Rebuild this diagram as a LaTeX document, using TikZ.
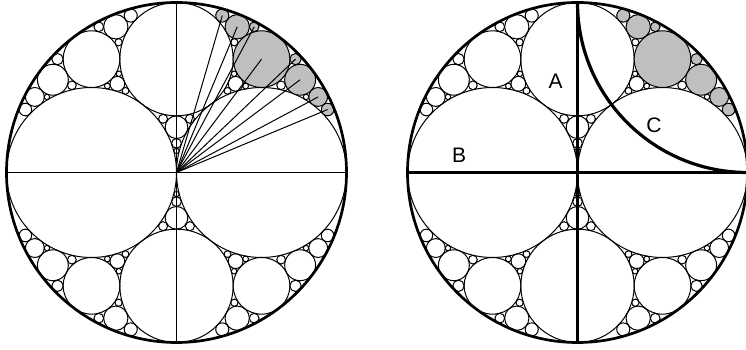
\documentclass[tikz,border=0pt]{standalone}
\usepackage{fontspec}
\setmainfont{Liberation Sans}

\newif\ifrays
\def\parseA#1,#2,#3\relax{\def\kA{#1}\def\xA{#2}\def\yA{#3}}
\def\parseB#1,#2,#3\relax{\def\kB{#1}\def\xB{#2}\def\yB{#3}}
\def\parseC#1,#2,#3\relax{\def\kC{#1}\def\xC{#2}\def\yC{#3}}
\def\parseD#1,#2,#3\relax{\def\kD{#1}\def\xD{#2}\def\yD{#3}}

\def\drawnew{%
  \def\isshade{0}%
  \ifnum\isout=1 \ifnum\xN>0 \ifnum\yN>0 \def\isshade{1}\fi\fi\fi
  \ifnum\isshade=1
    \filldraw[shadecirc] ({\xN/\kN},{\yN/\kN}) circle[radius={1/\kN}];
    \ifrays\xdef\raylist{\unexpanded\expandafter{\raylist}\noexpand\draw[radline] (0,0) -- ({\xN/\kN},{\yN/\kN});}\fi
  \else
    \draw[gcirc] ({\xN/\kN},{\yN/\kN}) circle[radius={1/\kN}];
  \fi}

\def\fillgap#1#2#3#4{%
  \begingroup
  \parseA#1\relax\parseB#2\relax\parseC#3\relax\parseD#4\relax
  \edef\kN{\the\numexpr 2*(\kA+\kB+\kC)-\kD\relax}%
  \edef\xN{\the\numexpr 2*(\xA+\xB+\xC)-\xD\relax}%
  \edef\yN{\the\numexpr 2*(\yA+\yB+\yC)-\yD\relax}%
  \ifnum\numexpr\kA*\kB*\kC\relax<0 \def\gaplim{36}\def\isout{1}\else\def\gaplim{63}\def\isout{0}\fi
  \ifnum\kN>\gaplim\relax\else
    \drawnew
    \edef\gapnext{\noexpand\fillgap{\kA,\xA,\yA}{\kB,\xB,\yB}{\kN,\xN,\yN}{\kC,\xC,\yC}%
      \noexpand\fillgap{\kA,\xA,\yA}{\kC,\xC,\yC}{\kN,\xN,\yN}{\kB,\xB,\yB}%
      \noexpand\fillgap{\kB,\xB,\yB}{\kC,\xC,\yC}{\kN,\xN,\yN}{\kA,\xA,\yA}}%
    \gapnext
  \fi
  \endgroup}

\def\gasket{%
  \draw[gcirc] (-0.5,0) circle[radius=0.5];
  \draw[gcirc] (0.5,0) circle[radius=0.5];
  \draw[gcirc] (0,{2/3}) circle[radius={1/3}];
  \draw[gcirc] (0,{-2/3}) circle[radius={1/3}];
  \fillgap{-1,0,0}{2,-1,0}{3,0,2}{2,1,0}%
  \fillgap{-1,0,0}{2,1,0}{3,0,2}{2,-1,0}%
  \fillgap{-1,0,0}{2,-1,0}{3,0,-2}{2,1,0}%
  \fillgap{-1,0,0}{2,1,0}{3,0,-2}{2,-1,0}%
  \fillgap{2,-1,0}{2,1,0}{3,0,2}{-1,0,0}%
  \fillgap{2,-1,0}{2,1,0}{3,0,-2}{-1,0,0}%
}

\tikzset{
  gcirc/.style={draw=black, line width=1pt},
  shadecirc/.style={draw=black, fill=gray!50, line width=1pt},
  outercirc/.style={draw=black, line width=2.7pt},
  diamline/.style={draw=black, line width=1.2pt},
  radline/.style={draw=black, line width=1pt},
  heavyline/.style={draw=black, line width=3.2pt},
  lab/.style={font=\fontsize{21}{25}\selectfont, inner sep=0pt}
}

\begin{document}
\begin{tikzpicture}[x=1pt,y=1pt]
\useasboundingbox (0,0) rectangle (746,350);
\fill[white] (0,0) rectangle (746,350);

% left figure
\begin{scope}[shift={(176.5,177.5)}, scale=170]
  \raystrue
  \gdef\raylist{}
  \gasket
  \draw[diamline] (-1,0) -- (1,0);
  \draw[diamline] (0,-1) -- (0,1);
  \raylist
  \draw[outercirc] (0,0) circle[radius=1];
\end{scope}

% right figure
\begin{scope}[shift={(577.5,177.5)}, scale=170]
  \raysfalse
  \gasket
  \draw[heavyline] (-1,0) -- (1,0);
  \draw[heavyline] (0,-1) -- (0,1);
  \draw[heavyline] (0,1) arc[start angle=180, end angle=270, radius=1];
  \draw[outercirc] (0,0) circle[radius=1];
  \node[lab] (labA) at (-0.128,0.534) {A};
  \node[lab] (labB) at (-0.697,0.103) {B};
  \node[lab] (labC) at (0.45,0.279) {C};
\end{scope}
\end{tikzpicture}
\end{document}
